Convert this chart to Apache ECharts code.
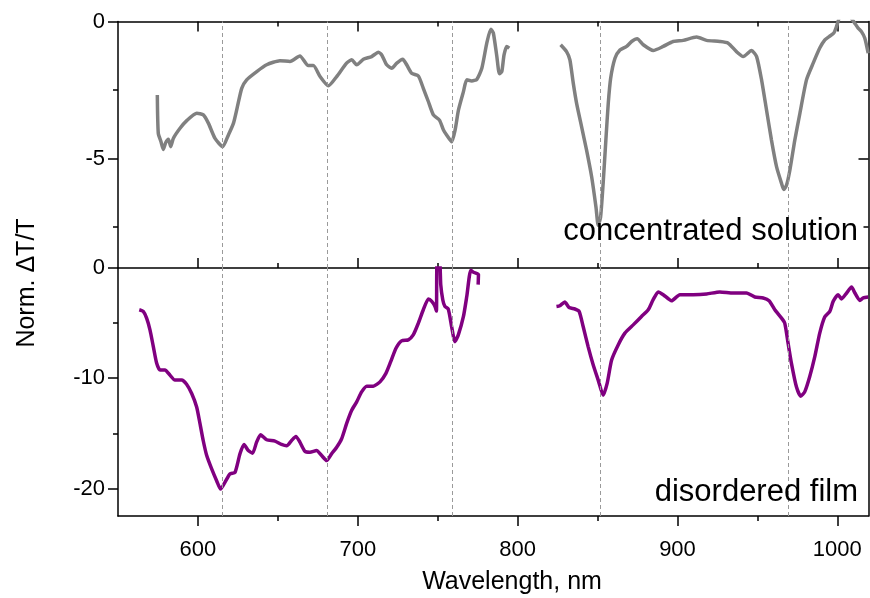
<!DOCTYPE html>
<html><head><meta charset="utf-8">
<script src="https://cdn.jsdelivr.net/npm/echarts@6/dist/echarts.min.js"></script>
<style>html,body{margin:0;padding:0;background:#fff}#c{width:870px;height:598px}</style>
</head><body><div id="c"></div>
<script>
// ---- data ----
const solutionNmA = [574.6,575.2,576.9,578.3,579.8,581.5,583,584.6,588.8,593,599.3,603.4,606.6,610.7,615.5,619,622.2,624.7,627.4,630.5,636.8,643,651.3,657.6,663.8,669,672.2,676.4,681.6,686.8,693,696.2,699.3,703.5,708.7,712.9,715,718.1,721.2,724.4,728.1,730.6,733.7,737.9,741,744.2,747.3,751.1,753.6,755.7,758.8,760.9,763,766.1,768.2,771.3,774.5,777.6,780.7,783.2,784.8,787,788.6,790.1,791.5,793.2,794.8];
const solutionValA = [-2.68,-4.08,-4.39,-4.67,-4.43,-4.30,-4.57,-4.27,-3.90,-3.62,-3.35,-3.41,-3.72,-4.27,-4.57,-4.15,-3.72,-3.11,-2.44,-2.13,-1.83,-1.58,-1.43,-1.46,-1.26,-1.61,-1.61,-2.01,-2.35,-2.01,-1.52,-1.40,-1.58,-1.38,-1.28,-1.12,-1.22,-1.58,-1.71,-1.52,-1.38,-1.58,-1.89,-1.99,-2.44,-2.93,-3.41,-3.60,-3.96,-4.15,-4.39,-3.96,-3.23,-2.56,-2.13,-2.17,-2.11,-1.71,-0.79,-0.28,-0.42,-1.28,-1.91,-1.83,-1.22,-0.91,-0.97];
const solutionNmB = [826.9,830.6,832.7,834.8,836.9,840.0,843.1,846.3,849.0,850.4,851.9,853.5,855.2,856.7,858.2,860.9,864.0,868.2,871.3,874.8,878.6,884.8,891.1,897.3,903.6,911.9,918.2,926.5,931.7,936.9,941.1,946.3,949.5,952.6,955.7,958.8,962.0,965.1,966.5,968.2,970.3,973.4,976.6,980.7,984.9,989.0,992.2,994.9,997.8,999.5,1001.1,1004,1007,1008.8,1010.9,1013,1015.1,1017.2,1019.3];
const solutionValB = [-0.85,-1.10,-1.40,-2.25,-2.99,-3.84,-4.69,-5.67,-6.77,-7.44,-7.14,-5.91,-4.33,-2.99,-2.07,-1.34,-1.04,-0.91,-0.73,-0.63,-0.85,-1.06,-0.91,-0.73,-0.69,-0.57,-0.69,-0.73,-0.79,-1.10,-1.28,-1.06,-1.28,-2.13,-3.23,-4.33,-5.31,-5.91,-6.13,-5.98,-5.43,-4.33,-3.35,-2.13,-1.52,-0.97,-0.67,-0.55,-0.42,-0.18,0.12,0.5,0.4,0.12,-0.06,-0.24,-0.37,-0.61,-1.16];
const filmNmA = [563.3,565.8,567.9,570.0,572.1,574.2,576.3,579.4,582.5,585.6,589.8,592.9,596.1,599.2,601.3,603.3,605.5,608.6,611.7,614.2,616.9,620.0,623.2,626.3,628.8,631.5,634.2,636.7,639.2,643.0,648.2,652.3,655.5,658.6,661.3,663.8,666.9,670.1,674.2,677.4,680.5,683.6,686.8,689.9,693.0,696.2,699.3,702.4,705.6,709.7,713.9,717.6,720.6,723.9,727.4,731.6,734.7,737.9,741.0,744.2,746.3,748.3,749.2,749.6,751.2,751.9,753.2,754.5,756.6,758.7,760.8,762.9,766.1,768.2,770.7,772.4,775.5,775.3];
const filmValA = [-3.79,-3.94,-4.55,-5.61,-7.13,-8.65,-9.26,-9.26,-9.72,-10.17,-10.17,-10.54,-11.39,-12.61,-14.12,-15.65,-17.02,-18.23,-19.30,-20.06,-19.45,-18.69,-18.54,-16.86,-16.01,-16.56,-16.80,-15.80,-15.13,-15.58,-15.71,-16.01,-16.13,-15.65,-15.28,-15.80,-16.62,-16.71,-16.56,-17.02,-17.47,-16.86,-16.26,-15.49,-14.12,-12.91,-12.15,-11.24,-10.72,-10.72,-10.33,-9.56,-8.50,-7.28,-6.61,-6.52,-6.07,-5.00,-3.79,-2.81,-3.03,-3.49,-3.9,0.5,0.5,-1.5,-2.9,-3.49,-3.72,-5.31,-6.68,-6.07,-4.40,-2.57,-0.2,-0.38,-0.59,-1.51];
const filmNmB = [824.3,826.4,829.5,832.2,835.8,838.5,841.0,844.1,847.3,850.4,853.5,856.0,858.8,862.9,867.1,872.3,877.5,881.7,884.8,888.0,891.1,896.3,901.5,909.8,918.2,926.5,934.8,943.2,948.4,953.6,957.3,960.9,965.1,967.1,969.2,971.3,974.4,977.1,979.6,982.7,985.9,989.0,992.1,995.3,997.4,1000.5,1002.6,1005.8,1008.9,1011.0,1014.1,1016.2,1019.3];
const filmValB = [-3.49,-3.42,-3.09,-3.58,-3.72,-3.94,-5.31,-7.13,-8.80,-10.17,-11.54,-10.47,-8.35,-6.98,-5.91,-5.16,-4.40,-3.79,-2.87,-2.17,-2.42,-2.97,-2.42,-2.42,-2.36,-2.17,-2.27,-2.27,-2.63,-2.72,-2.97,-3.79,-4.55,-5.00,-6.83,-8.65,-10.78,-11.63,-11.24,-9.87,-8.05,-5.91,-4.45,-3.94,-3.03,-2.42,-2.81,-2.27,-1.72,-2.27,-2.94,-2.72,-2.63];
const peakNm = [615.5, 681, 759.4, 852, 969];
const xMajorTicks = [600, 700, 800, 900, 1000];
const xMinorTicks = [650, 750, 850, 950];
const topYMajor = [0, -5];
const topYMinor = [-2.5, -7.5];
const botYMajor = [0, -10, -20];
const botYMinor = [-5, -15];
const labelTop = 'concentrated solution';
const labelBottom = 'disordered film';
const xTitle = 'Wavelength, nm';
const yTitle = 'Norm. \u0394T/T';

// ---- chart ----
const FONT = '"Liberation Sans", Arial, sans-serif';
const XMIN = 550, XMAX = 1019.5;
const TOP_MIN = -9, TOP_MAX = 0, BOT_MIN = -22.5, BOT_MAX = 0;
const LW = 1.5, K = '#000';
function zip(a, b) { return a.map((v, i) => [v, b[i]]); }
const plain = v => String(v);

function mkX(gridIndex, position, ticks, len, inside, showLine, labels) {
  return {
    type: 'value', gridIndex, position, min: XMIN, max: XMAX,
    axisLine: { show: showLine, onZero: false, lineStyle: { color: K, width: LW } },
    axisTick: { show: true, inside, length: len, customValues: ticks, lineStyle: { color: K, width: LW } },
    axisLabel: labels ? { show: true, customValues: labels, formatter: plain, margin: 23, color: K, fontSize: 22, fontFamily: FONT } : { show: false },
    splitLine: { show: false }
  };
}
function mkY(gridIndex, position, min, max, ticks, len, inside, showLine, labels) {
  return {
    type: 'value', gridIndex, position, min, max,
    axisLine: { show: showLine, onZero: false, lineStyle: { color: K, width: LW } },
    axisTick: { show: ticks.length > 0, inside, length: len, customValues: ticks, lineStyle: { color: K, width: LW } },
    axisLabel: labels ? { show: true, customValues: labels, formatter: plain, margin: 13, color: K, fontSize: 22, fontFamily: FONT } : { show: false },
    splitLine: { show: false }
  };
}

const dashMark = {
  symbol: 'none', silent: true, animation: false,
  label: { show: false },
  lineStyle: { color: '#9a9a9a', width: 1, type: [4, 3] },
  data: peakNm.map(v => ({ xAxis: v }))
};

const option = {
  animation: false,
  backgroundColor: '#fff',
  grid: [
    { left: 118, top: 21.5, width: 750.5, height: 246.5 },
    { left: 118, top: 268, width: 750.5, height: 248 }
  ],
  xAxis: [
    mkX(0, 'bottom', xMajorTicks, 10, true, true, null),
    mkX(0, 'bottom', xMinorTicks, 5, true, false, null),
    mkX(0, 'top', xMajorTicks, 10, true, true, null),
    mkX(0, 'top', xMinorTicks, 5, true, false, null),
    mkX(1, 'bottom', xMajorTicks, 10, false, true, xMajorTicks),
    mkX(1, 'bottom', xMinorTicks, 5, false, false, null)
  ],
  yAxis: [
    mkY(0, 'left', TOP_MIN, TOP_MAX, topYMajor, 10, false, true, topYMajor),
    mkY(0, 'left', TOP_MIN, TOP_MAX, topYMinor, 5, false, false, null),
    mkY(0, 'right', TOP_MIN, TOP_MAX, [-5], 10, true, true, null),
    mkY(0, 'right', TOP_MIN, TOP_MAX, topYMinor, 5, true, false, null),
    mkY(1, 'left', BOT_MIN, BOT_MAX, botYMajor, 10, false, true, botYMajor),
    mkY(1, 'left', BOT_MIN, BOT_MAX, botYMinor, 5, false, false, null),
    mkY(1, 'right', BOT_MIN, BOT_MAX, [], 5, true, true, null)
  ],
  series: [
    { type: 'line', xAxisIndex: 0, yAxisIndex: 0, data: [], z: 1, markLine: dashMark },
    { type: 'line', xAxisIndex: 4, yAxisIndex: 4, data: [], z: 1, markLine: dashMark },
    { type: 'line', xAxisIndex: 0, yAxisIndex: 0, data: zip(solutionNmA, solutionValA), symbol: 'none', smooth: 0.2, clip: true, z: 3, lineStyle: { color: '#808080', width: 3.5 } },
    { type: 'line', xAxisIndex: 0, yAxisIndex: 0, data: zip(solutionNmB, solutionValB), symbol: 'none', smooth: 0.2, clip: true, z: 3, lineStyle: { color: '#808080', width: 3.5 } },
    { type: 'line', xAxisIndex: 4, yAxisIndex: 4, data: zip(filmNmA, filmValA), symbol: 'none', smooth: 0.2, clip: true, z: 3, lineStyle: { color: '#800080', width: 3.5 } },
    { type: 'line', xAxisIndex: 4, yAxisIndex: 4, data: zip(filmNmB, filmValB), symbol: 'none', smooth: 0.2, clip: true, z: 3, lineStyle: { color: '#800080', width: 3.5 } }
  ],
  graphic: [
    { type: 'text', x: 858, y: 231, z: 10, style: { text: labelTop, font: '31px ' + FONT, fill: K, align: 'right', verticalAlign: 'middle' } },
    { type: 'text', x: 858, y: 492, z: 10, style: { text: labelBottom, font: '31px ' + FONT, fill: K, align: 'right', verticalAlign: 'middle' } },
    { type: 'text', x: 512, y: 582, z: 10, style: { text: xTitle, font: '25px ' + FONT, fill: K, align: 'center', verticalAlign: 'middle' } },
    { type: 'text', x: 27, y: 283, rotation: Math.PI / 2, z: 10, style: { text: yTitle, font: '25px ' + FONT, fill: K, align: 'center', verticalAlign: 'middle' } }
  ]
};
const chart = echarts.init(document.getElementById('c'), null, { renderer: 'canvas' });
chart.setOption(option);
</script></body></html>
